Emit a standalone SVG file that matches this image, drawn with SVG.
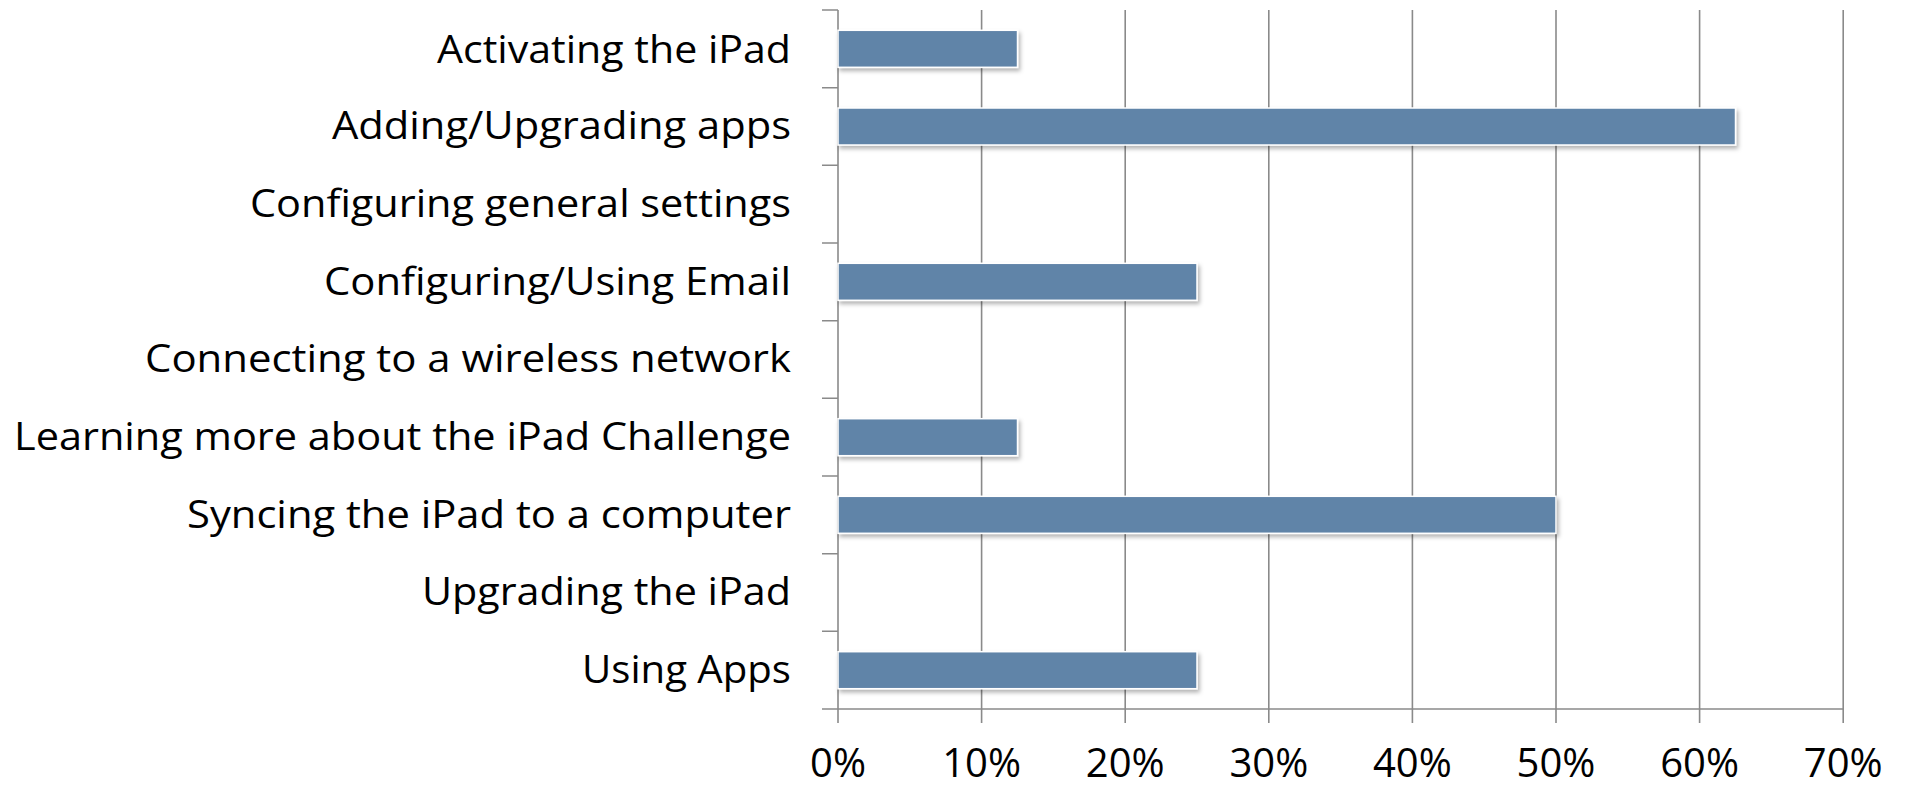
<svg xmlns="http://www.w3.org/2000/svg" width="1907" height="789" viewBox="0 0 1907 789">
  <style>
    .lbl { font-family: "Open Sans", "Noto Sans", "Liberation Sans", sans-serif; font-size: 39px; fill: #000; }
    .ylbl { text-anchor: end; }
    .xlbl { text-anchor: middle; font-size: 40px; }
    .grid { stroke: #8a8a8a; stroke-width: 1.6; fill: none; }
    .axis { stroke: #8a8a8a; stroke-width: 1.6; fill: none; }
    .bar { fill: #6084a8; stroke: #ffffff; stroke-width: 1.5; filter: url(#shadow); }
  </style>
  <defs>
    <filter id="shadow" x="-10%" y="-30%" width="120%" height="180%">
      <feDropShadow dx="2" dy="3" stdDeviation="2" flood-color="#000" flood-opacity="0.3"/>
    </filter>
  </defs>
  <rect width="1907" height="789" fill="#ffffff"/>

  <g id="gridlines">
    <line class="grid" x1="981.6" y1="10" x2="981.6" y2="723"/>
    <line class="grid" x1="1125.2" y1="10" x2="1125.2" y2="723"/>
    <line class="grid" x1="1268.8" y1="10" x2="1268.8" y2="723"/>
    <line class="grid" x1="1412.4" y1="10" x2="1412.4" y2="723"/>
    <line class="grid" x1="1556" y1="10" x2="1556" y2="723"/>
    <line class="grid" x1="1699.6" y1="10" x2="1699.6" y2="723"/>
    <line class="grid" x1="1843.2" y1="10" x2="1843.2" y2="723"/>
  </g>

  <g id="axes">
    <line class="axis" x1="838" y1="10" x2="838" y2="723"/>
    <line class="axis" x1="822" y1="709" x2="1843.2" y2="709"/>
    <path class="axis" d="M822 10H838M822 87.7H838M822 165.3H838M822 243H838M822 320.7H838M822 398.3H838M822 476H838M822 553.7H838M822 631.3H838"/>
  </g>

  <g id="bars">
    <rect id="bar-activating" class="bar" x="838" y="30.3" width="179.5" height="37"/>
    <rect id="bar-adding" class="bar" x="838" y="108" width="897.5" height="37"/>
    <rect id="bar-email" class="bar" x="838" y="263.3" width="359" height="37"/>
    <rect id="bar-learning" class="bar" x="838" y="418.7" width="179.5" height="37"/>
    <rect id="bar-syncing" class="bar" x="838" y="496.3" width="718" height="37"/>
    <rect id="bar-usingapps" class="bar" x="838" y="651.7" width="359" height="37"/>
  </g>

  <g id="category-labels">
    <text class="lbl ylbl" x="791" y="63" textLength="354" lengthAdjust="spacingAndGlyphs">Activating the iPad</text>
    <text class="lbl ylbl" x="791" y="139" textLength="459" lengthAdjust="spacingAndGlyphs">Adding/Upgrading apps</text>
    <text class="lbl ylbl" x="791" y="216.8" textLength="541" lengthAdjust="spacingAndGlyphs">Configuring general settings</text>
    <text class="lbl ylbl" x="791" y="294.5" textLength="467" lengthAdjust="spacingAndGlyphs">Configuring/Using Email</text>
    <text class="lbl ylbl" x="791" y="372.2" textLength="646" lengthAdjust="spacingAndGlyphs">Connecting to a wireless network</text>
    <text class="lbl ylbl" x="791" y="450" textLength="777" lengthAdjust="spacingAndGlyphs">Learning more about the iPad Challenge</text>
    <text class="lbl ylbl" x="791" y="527.5" textLength="604" lengthAdjust="spacingAndGlyphs">Syncing the iPad to a computer</text>
    <text class="lbl ylbl" x="791" y="605.2" textLength="369" lengthAdjust="spacingAndGlyphs">Upgrading the iPad</text>
    <text class="lbl ylbl" x="791" y="682.8" textLength="209" lengthAdjust="spacingAndGlyphs">Using Apps</text>
  </g>

  <g id="value-labels">
    <text class="lbl xlbl" x="838" y="777">0%</text>
    <text class="lbl xlbl" x="981.6" y="777">10%</text>
    <text class="lbl xlbl" x="1125.2" y="777">20%</text>
    <text class="lbl xlbl" x="1268.8" y="777">30%</text>
    <text class="lbl xlbl" x="1412.4" y="777">40%</text>
    <text class="lbl xlbl" x="1556" y="777">50%</text>
    <text class="lbl xlbl" x="1699.6" y="777">60%</text>
    <text class="lbl xlbl" x="1843.2" y="777">70%</text>
  </g>
</svg>
